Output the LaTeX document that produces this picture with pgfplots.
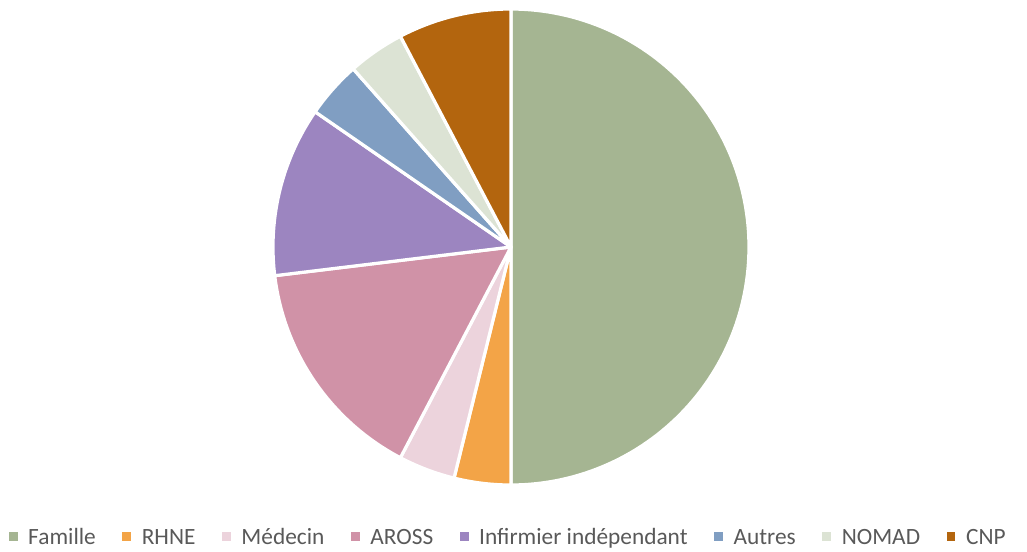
\documentclass[border=0pt]{standalone}
\usepackage{pgfplots}
\pgfplotsset{compat=1.18}
\usepackage{fontspec}
\setmainfont{Carlito}
\definecolor{cFam}{HTML}{A5B592}
\definecolor{cRHNE}{HTML}{F3A447}
\definecolor{cMed}{HTML}{ECD3DC}
\definecolor{cAROSS}{HTML}{D092A7}
\definecolor{cInf}{HTML}{9C85C0}
\definecolor{cAut}{HTML}{809EC2}
\definecolor{cNOM}{HTML}{DCE3D4}
\definecolor{cCNP}{HTML}{B3650E}
\definecolor{txt}{HTML}{595959}
% data (counts)
\def\vFam{13}\def\vRHNE{1}\def\vMed{1}\def\vAROSS{4}\def\vInf{3}\def\vAut{1}\def\vNOM{1}\def\vCNP{2}
\pgfmathsetmacro\total{\vFam+\vRHNE+\vMed+\vAROSS+\vInf+\vAut+\vNOM+\vCNP}
\pgfmathsetmacro\aO{90}
\pgfmathsetmacro\aA{\aO-360*\vFam/\total}
\pgfmathsetmacro\aB{\aA-360*\vRHNE/\total}
\pgfmathsetmacro\aC{\aB-360*\vMed/\total}
\pgfmathsetmacro\aD{\aC-360*\vAROSS/\total}
\pgfmathsetmacro\aE{\aD-360*\vInf/\total}
\pgfmathsetmacro\aF{\aE-360*\vAut/\total}
\pgfmathsetmacro\aG{\aF-360*\vNOM/\total}
\pgfmathsetmacro\aH{\aG-360*\vCNP/\total}
\begin{document}
\fontsize{17.5}{20}\selectfont
\begin{tikzpicture}
\begin{axis}[
  at={(0,0)}, anchor=origin,
  x=178.5pt, y=178.5pt,
  xmin=-1, xmax=1, ymin=-1, ymax=1,
  hide axis, clip=false,
  legend columns=8,
  legend style={at={(0.495,-0.111)}, anchor=center, draw=none, fill=none,
    font=\fontsize{17.5}{20}\selectfont\color{txt},
    /tikz/every even column/.append style={column sep=18pt},
    /tikz/every odd column/.append style={column sep=6pt},
    nodes={inner sep=2pt, anchor=base west}},
  legend image code/.code={\fill[#1, draw=none] (0pt,2.5pt) rectangle (6.5pt,9pt);},
  every axis plot/.append style={draw=white, line width=2.4pt, line join=round, samples=120, variable=\t},
]
\addplot[fill=cFam, domain=\aA:\aO] ({cos(\t)},{sin(\t)}) -- (0,0) -- cycle;
\addlegendentry{Famille}
\addplot[fill=cRHNE, domain=\aB:\aA] ({cos(\t)},{sin(\t)}) -- (0,0) -- cycle;
\addlegendentry{RHNE}
\addplot[fill=cMed, domain=\aC:\aB] ({cos(\t)},{sin(\t)}) -- (0,0) -- cycle;
\addlegendentry{Médecin}
\addplot[fill=cAROSS, domain=\aD:\aC] ({cos(\t)},{sin(\t)}) -- (0,0) -- cycle;
\addlegendentry{AROSS}
\addplot[fill=cInf, domain=\aE:\aD] ({cos(\t)},{sin(\t)}) -- (0,0) -- cycle;
\addlegendentry{Infirmier indépendant}
\addplot[fill=cAut, domain=\aF:\aE] ({cos(\t)},{sin(\t)}) -- (0,0) -- cycle;
\addlegendentry{Autres}
\addplot[fill=cNOM, domain=\aG:\aF] ({cos(\t)},{sin(\t)}) -- (0,0) -- cycle;
\addlegendentry{NOMAD}
\addplot[fill=cCNP, domain=\aH:\aG] ({cos(\t)},{sin(\t)}) -- (0,0) -- cycle;
\addlegendentry{CNP}
\end{axis}
\pgfresetboundingbox
\path[use as bounding box] (-383.25pt,-228pt) rectangle (387pt,185.25pt);
\end{tikzpicture}
\end{document}
